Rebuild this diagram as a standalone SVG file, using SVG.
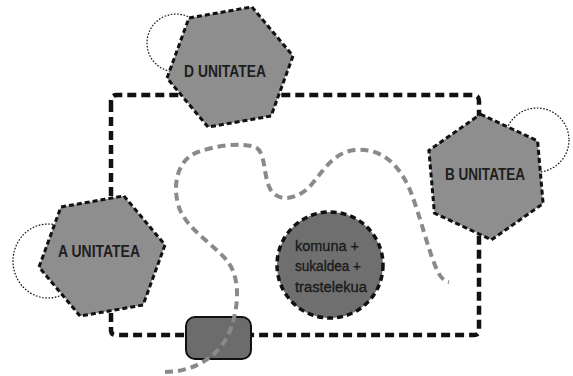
<svg xmlns="http://www.w3.org/2000/svg" width="573" height="376" viewBox="0 0 573 376">
<style>
.loop{fill:none;stroke:#111;stroke-width:1.2;stroke-dasharray:1.6 1.6}
.hex{fill:#8e8e8e;stroke:#111;stroke-width:3;stroke-dasharray:5 3}
.lbl{font-family:"Liberation Sans",Arial,sans-serif;font-weight:bold;font-size:17px;fill:#1e1e1e}
.ctxt{font-family:"Liberation Sans",Arial,sans-serif;font-size:15.5px;fill:#1a1a1a;stroke:#1a1a1a;stroke-width:0.35}
.wall{fill:none;stroke:#111;stroke-width:4.5;stroke-dasharray:9 5}
.path{fill:none;stroke:#8a8a8a;stroke-width:4;stroke-dasharray:8 5}
</style>
<rect width="573" height="376" fill="#ffffff"/>
<g id="connectors">
<path class="wall" d="M111,103 V330 Q111,335 116,335 H474 Q479,335 479,330 V101 Q479,95 473,95 H117 Q111,95 111,101 Z"/>
</g>
<g id="door">
<rect x="186" y="317" width="65" height="42" rx="9" fill="#6c6c6c" stroke="#111" stroke-width="2"/>
</g>
<g id="walkway">
<path class="path" d="M165,372 C195,372 222,355 231,328 C239,305 240,278 228,262 C215,245 190,232 180,210 C172,190 175,160 198,152 C215,146 240,142 255,147 C267,152 262,178 272,192 C282,203 300,198 312,184 C325,168 335,152 355,150 C380,148 398,162 410,190 C420,215 428,250 437,270 C440,277 444,281 449,282"/>
</g>
<g id="common">
<circle cx="330" cy="265" r="53" fill="#6f6f6f" stroke="#111" stroke-width="3.5" stroke-dasharray="6 4"/>
<text class="ctxt" x="295" y="251" textLength="64" lengthAdjust="spacingAndGlyphs">komuna +</text>
<text class="ctxt" x="295" y="271" textLength="66" lengthAdjust="spacingAndGlyphs">sukaldea +</text>
<text class="ctxt" x="295" y="292" textLength="72" lengthAdjust="spacingAndGlyphs">trastelekua</text>
</g>
<g id="unitD">
<circle class="loop" cx="176" cy="43" r="29"/>
<polygon class="hex" points="251.9,6.9 293,55.9 271.1,116 208.1,127.1 167,78.1 188.9,18"/>
<text class="lbl" x="184" y="77" textLength="82" lengthAdjust="spacingAndGlyphs">D UNITATEA</text>
</g>
<g id="unitB">
<circle class="loop" cx="537" cy="140" r="32"/>
<polygon class="hex" points="480.5,114.2 537.6,140.9 543.1,203.6 491.5,239.8 434.4,213.1 428.9,150.4"/>
<text class="lbl" x="445" y="180" textLength="80" lengthAdjust="spacingAndGlyphs">B UNITATEA</text>
</g>
<g id="unitA">
<ellipse class="loop" cx="48" cy="261" rx="35" ry="37"/>
<polygon class="hex" points="123.9,195.9 165,244.9 143.1,305 80.1,316.1 39,267.1 60.9,207"/>
<text class="lbl" x="58" y="257" textLength="82" lengthAdjust="spacingAndGlyphs">A UNITATEA</text>
</g>
</svg>
